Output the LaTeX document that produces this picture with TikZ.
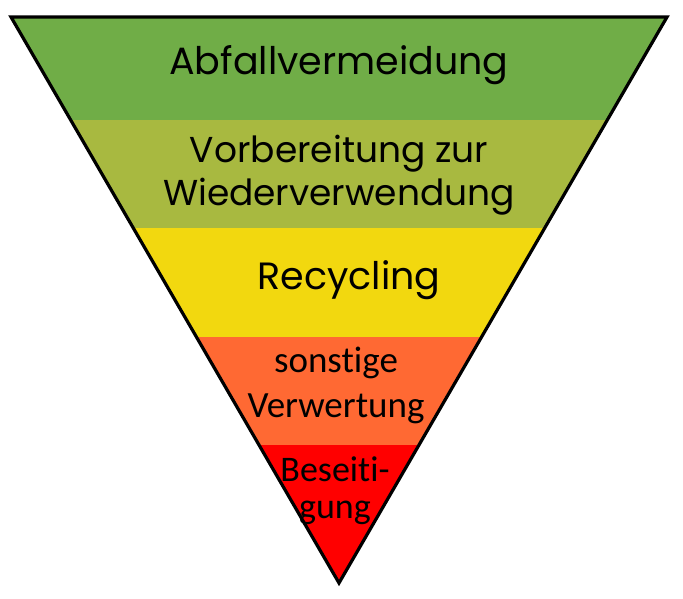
\documentclass[tikz,border=0pt]{standalone}
\usepackage{fontspec}
\setmainfont{Poppins}
\newfontfamily\lowfont[Ligatures=NoCommon]{Carlito}
\usetikzlibrary{positioning}

\definecolor{vermeidgreen}{HTML}{70AD47}
\definecolor{reuseolive}{HTML}{A8B940}
\definecolor{recycleyellow}{HTML}{F2D80F}
\definecolor{otherorange}{HTML}{FF6933}
\definecolor{disposered}{HTML}{FF0000}

\begin{document}
\begin{tikzpicture}[x=1pt,y=-1pt,
        level/.style={align=center,inner sep=0pt},% band labels
        upper/.style={level,font=\fontsize{36}{43}\selectfont},
        lower/.style={level,font=\lowfont\fontsize{37}{45}\selectfont}]
\useasboundingbox (0,0) rectangle (683,598);
\coordinate (TL) at (11,17);
\coordinate (TR) at (667,17);
\coordinate (AP) at (339,583);
\begin{scope}
\clip (TL) -- (TR) -- (AP) -- cycle;
\foreach \col/\ya/\yb in {vermeidgreen/0/120,reuseolive/120/228,recycleyellow/228/337,otherorange/337/445,disposered/445/600}{ %one band per level
\fill[\col] (0,\ya) rectangle (683,\yb);
}
\end{scope}
\draw[line width=3.2pt,line join=miter] (TL) -- (TR) -- (AP) -- cycle;

\node[upper,font=\fontsize{38}{43}\selectfont] (avoid) at (339,65) {Abfallvermeidung};
\node[upper] (reuse) at (339,175) {Vorbereitung zur\\Wiederverwendung};
\node[upper,font=\fontsize{38}{43}\selectfont] (recycle) at (349,280) {Recycling};
\node[lower] (other) at (336,385) {sonstige\\Verwertung};
\node[lower,font=\lowfont\fontsize{36}{37}\selectfont] (dispose) at (335,491) {Beseiti-\\gung};
\end{tikzpicture}
\end{document}
